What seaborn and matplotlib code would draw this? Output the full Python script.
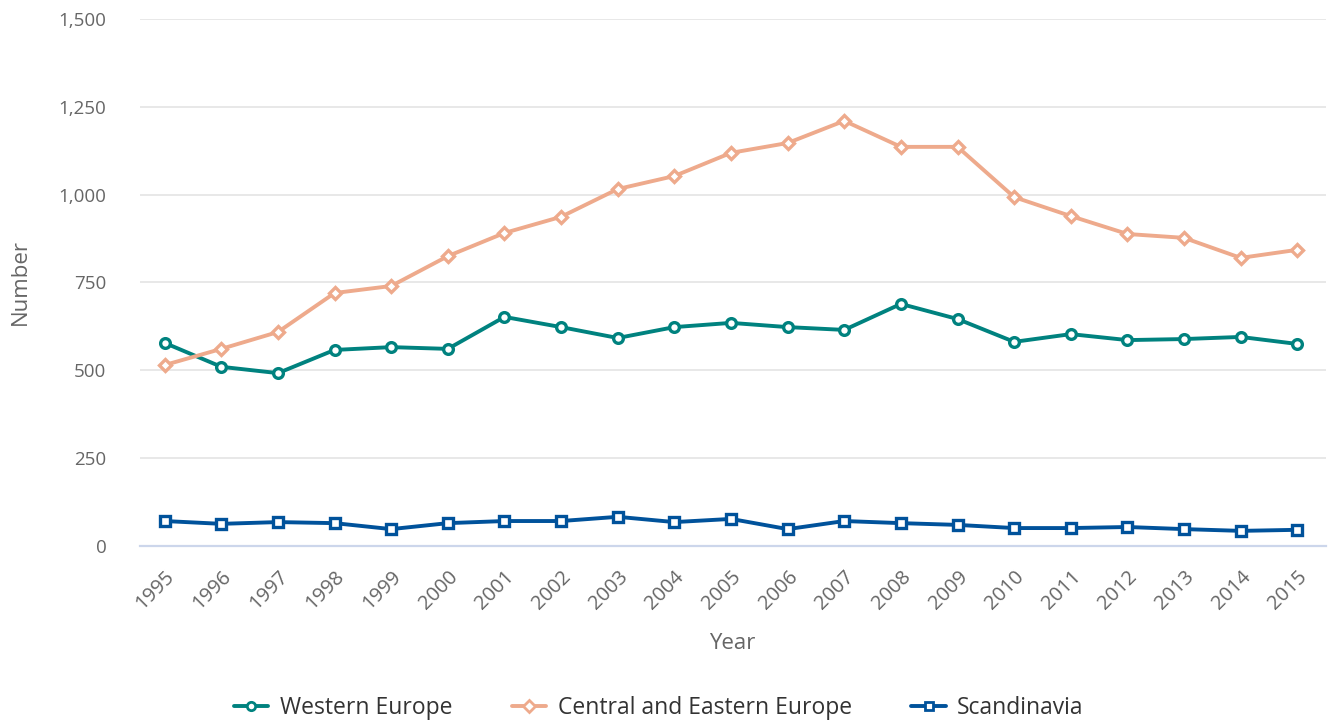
import pandas as pd
import seaborn as sns
import matplotlib.pyplot as plt
from matplotlib.ticker import FuncFormatter

years = list(range(1995, 2016))
western = [578, 510, 492, 558, 566, 561, 652, 623, 592, 623, 635, 623, 615, 689, 646, 581, 603, 586, 589, 595, 575]
central_eastern = [515, 561, 609, 720, 740, 825, 891, 937, 1016, 1053, 1119, 1147, 1210, 1136, 1136, 993, 939, 888, 877, 820, 843]
scandinavia = [71, 63, 68, 65, 48, 65, 71, 71, 83, 68, 77, 48, 71, 65, 60, 51, 51, 54, 48, 43, 46]

names = ["Western Europe", "Central and Eastern Europe", "Scandinavia"]
series = [western, central_eastern, scandinavia]
colors = ["#00827f", "#eeaa8c", "#00529b"]
markers = ["o", "D", "s"]
msizes = [7, 6.5, 7]

sns.set_style("white")
plt.rcParams['font.family'] = ['Open Sans', 'DejaVu Sans']

fig = plt.figure(figsize=(13.31, 7.22), dpi=100)
ax = fig.add_axes([0.105, 0.2438, 0.891, 0.7299])

for name, vals, c, m, ms in zip(names, series, colors, markers, msizes):
    d = pd.DataFrame({"Year": years, "Number": vals})
    sns.lineplot(data=d, x="Year", y="Number", color=c, marker=m, linewidth=2.8,
                 markersize=ms, markerfacecolor="white", markeredgecolor=c,
                 markeredgewidth=2.4, ax=ax, label=name)

ax.set_xlim(1994.56, 2015.5)
ax.set_ylim(0, 1500)
ax.set_yticks([0, 250, 500, 750, 1000, 1250, 1500])
ax.yaxis.set_major_formatter(FuncFormatter(lambda v, p: f"{int(v):,}"))
ax.set_xticks(years)
ax.set_xticklabels([str(y) for y in years], rotation=45, ha="right", rotation_mode="anchor")

ax.grid(axis="y", color="#e6e6e6", linewidth=1.3)
ax.set_axisbelow(True)
for s in ["left", "right", "top"]:
    ax.spines[s].set_visible(False)
ax.spines["bottom"].set_color("#ccd6eb")
ax.spines["bottom"].set_linewidth(1.6)
ax.tick_params(axis="x", colors="#666666", labelsize=14.5, length=10, width=1.6, color="#ccd6eb", pad=5)
ax.tick_params(axis="y", colors="#666666", labelsize=13.5, length=0, pad=24)
ax.set_xlabel("Year", fontsize=16, color="#666666", labelpad=14)
ax.set_ylabel("Number", fontsize=16, color="#666666", labelpad=20)

ax.get_legend().remove()
handles = [plt.Line2D([], [], color=c, marker=m, markerfacecolor="white", markeredgecolor=c,
                      markeredgewidth=2, markersize=6, linewidth=2.8)
           for c, m in zip(colors, markers)]
fig.legend(handles, names, loc="lower center", bbox_to_anchor=(0.495, -0.026), ncol=3,
           frameon=False, fontsize=16.5, labelcolor="#333333", handlelength=1.5,
           columnspacing=2.6, handletextpad=0.5)

fig.savefig("out.png", dpi=100)
